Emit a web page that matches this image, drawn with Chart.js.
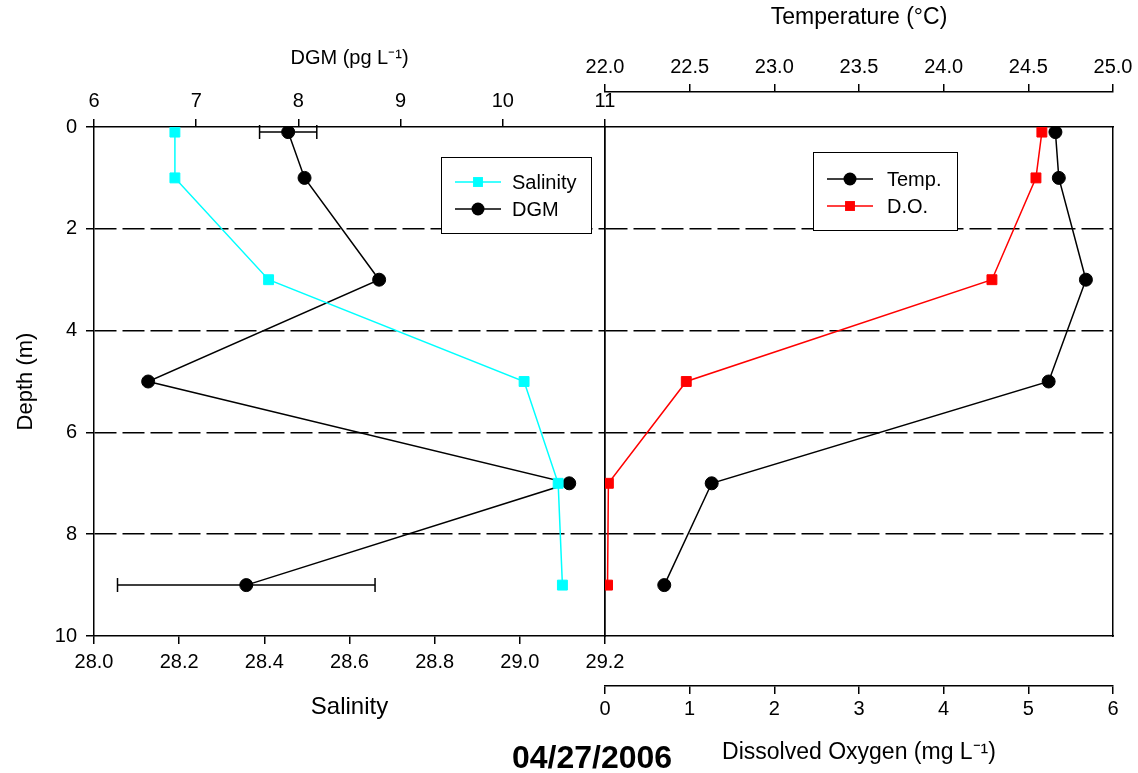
<!DOCTYPE html>
<html>
<head>
<meta charset="utf-8">
<script src="https://cdn.jsdelivr.net/npm/chart.js@4"></script>
<style>
  body { margin: 0; background: #fff; }
  #wrap { position: relative; width: 1138px; height: 773px; }
  canvas { position: absolute; left: 0; top: 0; }
  #date { position: absolute; left: 0; width: 1184px; top: 740px; text-align: center;
          font: bold 32px "Liberation Sans", Arial, sans-serif; line-height: 34px; }
</style>
</head>
<body>
<div id="wrap">
  <canvas id="leftChart" width="1138" height="773"></canvas>
  <canvas id="rightChart" width="1138" height="773"></canvas>
  <div id="date">04/27/2006</div>
</div>
<script>
// depth profile, 04/27/2006
const depths = [0.1, 1, 3, 5, 7, 9]
const salinity = [28.19, 28.19, 28.41, 29.01, 29.09, 29.10]
const dgm = [7.90, 8.06, 8.79, 6.53, 10.65, 7.49]
const dgmErr = [0.28, 0, 0, 0, 0, 1.26]
const temp = [24.66, 24.68, 24.84, 24.62, 22.63, 22.35]
const oxygen = [5.16, 5.09, 4.57, 0.96, 0.04, 0.03]

const FONT = '"Liberation Sans", Arial, sans-serif'
Chart.defaults.font.family = FONT
Chart.defaults.color = '#000'

const points = (xs) => xs.map((v, i) => ({ x: v, y: depths[i] }))
const size = (prop, n) => (s) => { s[prop] = n }

const axisBorder = { display: true, color: '#000', width: 1.5 }
const depthGrid = {
  color: (c) => (c.tick && (c.tick.value === 0 || c.tick.value === 10)) ? 'rgba(0,0,0,0)' : '#000',
  lineWidth: 1.5, tickColor: '#000', tickWidth: 1.5, tickLength: 8, tickBorderDash: []
}
const tickGrid = { drawOnChartArea: false, color: '#000', lineWidth: 1.5, tickLength: 8 }
const blank = (pos, prop, n, weight) => ({
  type: 'linear', position: pos, display: true, weight: weight || 0, min: 0, max: 1,
  ticks: { display: false }, grid: { display: false }, border: axisBorder,
  afterFit: size(prop, n)
})

const series = (label, xs, axis, color, style, r) => ({
  label: label, data: points(xs), xAxisID: axis, yAxisID: 'y', showLine: true,
  borderColor: color, backgroundColor: color, borderWidth: 1.5,
  pointStyle: style, pointRadius: r, pointBorderWidth: 1, pointBorderColor: color,
  pointBackgroundColor: color
})

const errorBars = {
  id: 'errorBars',
  beforeDatasetsDraw(chart) {
    const ctx = chart.ctx
    const sx = chart.scales.x2, sy = chart.scales.y
    ctx.save()
    ctx.strokeStyle = '#000'
    ctx.lineWidth = 1.5
    dgm.forEach((v, i) => {
      if (!dgmErr[i]) return
      const y = sy.getPixelForValue(depths[i])
      const a = sx.getPixelForValue(v - dgmErr[i]), b = sx.getPixelForValue(v + dgmErr[i])
      ctx.beginPath()
      ctx.moveTo(a, y); ctx.lineTo(b, y)
      ctx.moveTo(a, y - 7); ctx.lineTo(a, y + 7)
      ctx.moveTo(b, y - 7); ctx.lineTo(b, y + 7)
      ctx.stroke()
    })
    ctx.restore()
  }
}

// legend box inside the plot
const boxLegend = (box) => ({
  id: 'boxLegend',
  afterDraw(chart) {
    const ctx = chart.ctx
    ctx.save()
    ctx.fillStyle = '#fff'
    ctx.fillRect(box.x, box.y, box.w, box.h)
    ctx.strokeStyle = '#000'
    ctx.lineWidth = 1
    ctx.strokeRect(box.x + 0.5, box.y + 0.5, box.w, box.h)
    chart.data.datasets.forEach((ds, i) => {
      const y = box.rows[i]
      const mx = (box.l1 + box.l2) / 2
      ctx.strokeStyle = ds.borderColor
      ctx.lineWidth = 1.5
      ctx.beginPath(); ctx.moveTo(box.l1, y); ctx.lineTo(box.l2, y); ctx.stroke()
      ctx.fillStyle = ds.borderColor
      if (ds.pointStyle === 'circle') {
        ctx.beginPath(); ctx.arc(mx, y, ds.pointRadius, 0, Math.PI * 2); ctx.fill()
      } else {
        const h = ds.pointRadius * Math.SQRT1_2
        ctx.fillRect(mx - h, y - h, 2 * h, 2 * h)
      }
      ctx.fillStyle = '#000'
      ctx.font = '20px ' + FONT
      ctx.textBaseline = 'middle'
      ctx.fillText(ds.label, box.tx, y + 1)
    })
    ctx.restore()
  }
})

new Chart('leftChart', {
  type: 'scatter',
  data: {
    datasets: [
      series('Salinity', salinity, 'x', '#00ffff', 'rect', 7),
      series('DGM', dgm, 'x2', '#000000', 'circle', 6.5)
    ]
  },
  options: {
    responsive: false, animation: false,
    layout: { padding: { left: 0, right: 533, top: 0, bottom: 0 } },
    plugins: { legend: { display: false }, tooltip: { enabled: false } },
    scales: {
      y: {
        type: 'linear', position: 'left', reverse: true, min: 0, max: 10,
        ticks: { stepSize: 2, padding: 9, font: { size: 20 } },
        grid: depthGrid,
        border: { display: true, color: '#000', width: 1.5, dash: [22, 6] },
        title: { display: true, text: 'Depth (m)', font: { size: 22 }, padding: 13 },
        afterFit: size('width', 94)
      },
      edge: blank('right', 'width', 0),
      x: {
        type: 'linear', position: 'bottom', min: 28, max: 29.2,
        ticks: { stepSize: 0.2, padding: 6, font: { size: 20 }, callback: (v) => v.toFixed(1) },
        grid: tickGrid, border: axisBorder,
        title: { display: true, text: 'Salinity', font: { size: 24 }, padding: 51 },
        afterFit: size('height', 137)
      },
      x2: {
        type: 'linear', position: 'top', min: 6, max: 11,
        ticks: { stepSize: 1, padding: 6, font: { size: 20 } },
        grid: tickGrid, border: axisBorder,
        title: { display: true, text: 'DGM (pg L⁻¹)', font: { size: 20 }, padding: 46 },
        afterFit: size('height', 127)
      }
    }
  },
  plugins: [errorBars, boxLegend({ x: 441, y: 157, w: 150, h: 76, rows: [182, 209], l1: 455, l2: 501, tx: 512 })]
})

new Chart('rightChart', {
  type: 'scatter',
  data: {
    datasets: [
      series('Temp.', temp, 'x2', '#000000', 'circle', 6.5),
      series('D.O.', oxygen, 'x', '#ff0000', 'rect', 7)
    ]
  },
  options: {
    responsive: false, animation: false,
    layout: { padding: { left: 605, right: 25, top: 0, bottom: 0 } },
    plugins: { legend: { display: false }, tooltip: { enabled: false } },
    scales: {
      y: {
        type: 'linear', position: 'left', reverse: true, min: 0, max: 10,
        ticks: { stepSize: 2, display: false },
        grid: Object.assign({}, depthGrid, { drawTicks: false }),
        border: { display: true, color: '#000', width: 1.5, dash: [22, 6] },
        afterFit: size('width', 0)
      },
      edge: blank('right', 'width', 0),
      topGap: blank('top', 'height', 35, 0),
      bottomGap: blank('bottom', 'height', 50, 0),
      x2: {
        type: 'linear', position: 'top', weight: 1, min: 22, max: 25,
        ticks: { stepSize: 0.5, padding: 5, font: { size: 20 }, callback: (v) => v.toFixed(1) },
        grid: tickGrid, border: axisBorder,
        title: { display: true, text: 'Temperature (°C)', font: { size: 23 }, padding: 4 },
        afterFit: size('height', 92)
      },
      x: {
        type: 'linear', position: 'bottom', weight: 1, min: 0, max: 6,
        ticks: { stepSize: 1, padding: 3, font: { size: 20 } },
        grid: tickGrid, border: axisBorder,
        title: { display: true, text: 'Dissolved Oxygen (mg L⁻¹)', font: { size: 23 }, padding: 7 },
        afterFit: size('height', 87)
      }
    }
  },
  plugins: [boxLegend({ x: 813, y: 152, w: 144, h: 78, rows: [179, 206], l1: 827, l2: 873, tx: 887 })]
})
</script>
</body>
</html>
